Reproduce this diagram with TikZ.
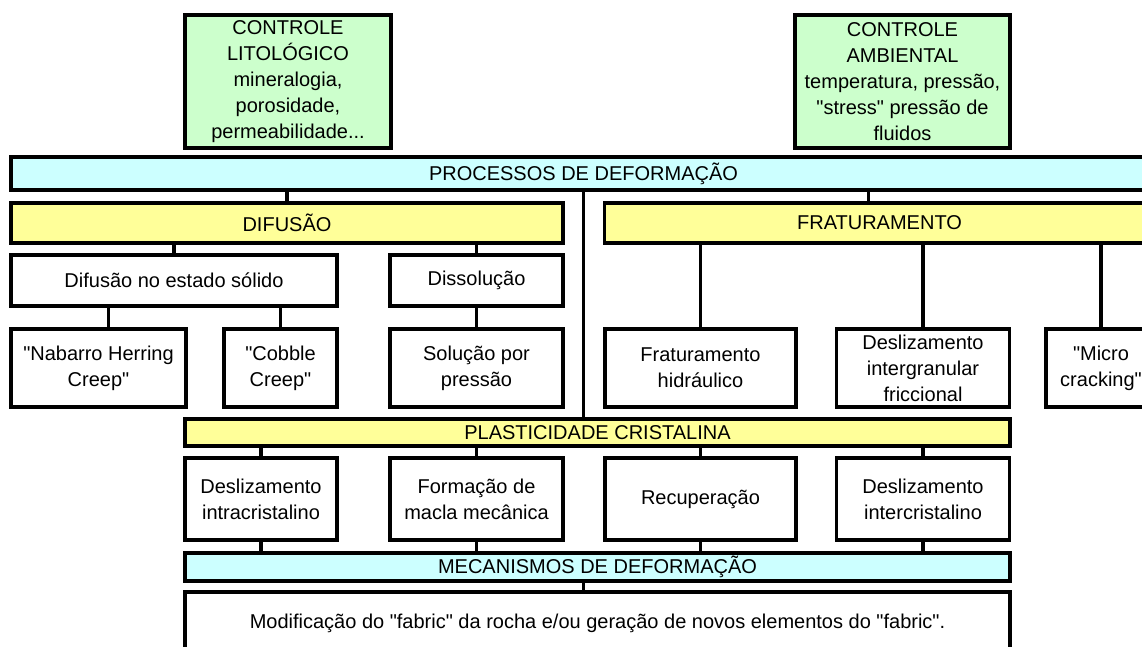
\documentclass[tikz,border=0pt]{standalone}
\usepackage{fontspec}
\setmainfont{Liberation Sans}
\usetikzlibrary{positioning}
\tikzset{ligacao/.style={line width=3.2pt}}
\newcommand{\aspas}{\textquotedbl}
\definecolor{verdeclaro}{RGB}{204,255,204}
\definecolor{azulclaro}{RGB}{204,255,255}
\definecolor{amareloclaro}{RGB}{255,255,153}

\begin{document}
\begin{tikzpicture}[x=1pt, y=-1pt, every node/.style={draw, line width=3.2pt, fill=white, align=center, inner sep=0pt, font=\fontsize{20}{26}\selectfont}]
            \useasboundingbox (0,0) rectangle (1142,646);
            % controles
            \node[fill=verdeclaro, minimum width=206, minimum height=133] (cl) at (288,81.5) {CONTROLE\\LITOLÓGICO\\mineralogia,\\porosidade,\\permeabilidade...};
            \node[fill=verdeclaro, minimum width=215, minimum height=133] (ca) at (902.5,81.5) {CONTROLE\\AMBIENTAL\\temperatura, pressão,\\\aspas stress\aspas{} pressão de\\fluidos};
            % processos
            \node[fill=azulclaro, minimum width=1145, minimum height=33] (proc) at (583.5,173.5) {PROCESSOS DE DEFORMAÇÃO};
            \node[fill=amareloclaro, minimum width=552, minimum height=40] (dif) at (287,223) {DIFUSÃO};
            \node[fill=amareloclaro, minimum width=550, minimum height=40] (frat) at (879.5,223) {FRATURAMENTO};
            \node[minimum width=326, minimum height=51] (dsol) at (174,280.5) {Difusão no estado sólido};
            \node[minimum width=173, minimum height=51] (diss) at (476.5,280.5) {Dissolução};
            \node[minimum width=175, minimum height=78] (nab) at (98.5,368) {\aspas Nabarro Herring\\Creep\aspas};
            \node[minimum width=113, minimum height=78] (cob) at (280.5,368) {\aspas Cobble\\Creep\aspas};
            \node[minimum width=173, minimum height=78] (solp) at (476.5,368) {Solução por\\pressão};
            \node[minimum width=191, minimum height=78] (fhid) at (700.5,368) {Fraturamento\\hidráulico};
            \node[minimum width=173.5, minimum height=78] (dint) at (923,368) {Deslizamento\\intergranular\\friccional};
            \node[minimum width=110, minimum height=78] (micro) at (1101,368) {\aspas Micro\\cracking\aspas};
            % plasticidade
            \node[fill=amareloclaro, minimum width=825, minimum height=27] (plast) at (597.5,432.5) {PLASTICIDADE CRISTALINA};
            \node[minimum width=152, minimum height=82] (dintra) at (261,499) {Deslizamento\\intracristalino};
            \node[minimum width=173, minimum height=82] (form) at (476.5,499) {Formação de\\macla mecânica};
            \node[minimum width=191, minimum height=82] (recup) at (700.5,499) {Recuperação};
            \node[minimum width=173.5, minimum height=82] (dinter) at (923,499) {Deslizamento\\intercristalino};
            % mecanismos
            \node[fill=azulclaro, minimum width=825, minimum height=28] (mec) at (597.5,567) {MECANISMOS DE DEFORMAÇÃO};
            \node[minimum width=825, minimum height=62] (fab) at (597.5,623) {Modificação do \aspas fabric\aspas{} da rocha e/ou geração de novos elementos do \aspas fabric\aspas.};

            \draw[ligacao] (proc.south -| dif.north) to (dif.north);
            \draw[ligacao] ([xshift=-11pt]frat.north |- proc.south) to ([xshift=-11pt]frat.north);
            \draw[ligacao] (proc.south) to (proc.south |- plast.north);
            \draw[ligacao] (dif.south -| dsol.north) to (dsol.north);
            \draw[ligacao] (dif.south -| diss.north) to (diss.north);
            \draw[ligacao] ([xshift=10pt]nab.north |- dsol.south) to ([xshift=10pt]nab.north);
            \draw[ligacao] (dsol.south -| cob.north) to (cob.north);
            \draw[ligacao] (diss) to (solp);
            \draw[ligacao] (frat.south -| fhid.north) to (fhid.north);
            \draw[ligacao] (frat.south -| dint.north) to (dint.north);
            \draw[ligacao] (frat.south -| micro.north) to (micro.north);
            \draw[ligacao] (plast.south -| dintra.north) to (dintra.north);
            \draw[ligacao] (plast.south -| form.north) to (form.north);
            \draw[ligacao] (plast.south -| recup.north) to (recup.north);
            \draw[ligacao] (plast.south -| dinter.north) to (dinter.north);
            \draw[ligacao] (dintra) to (dintra |- mec.north);
            \draw[ligacao] (form) to (form |- mec.north);
            \draw[ligacao] (recup) to (recup |- mec.north);
            \draw[ligacao] (dinter) to (dinter |- mec.north);
            \draw[ligacao] (mec.south -| proc.south) to (fab.north -| proc.south);
        \end{tikzpicture}
\end{document}
